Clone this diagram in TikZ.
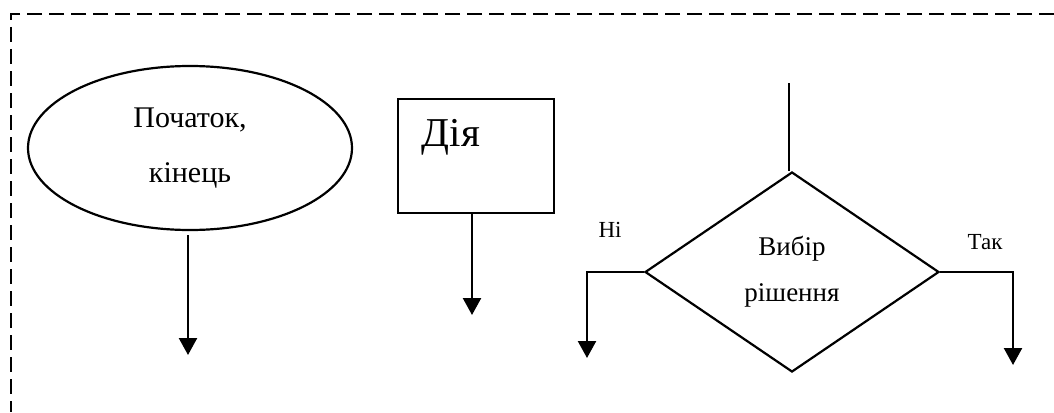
\documentclass[tikz,border=0pt]{standalone}
\usepackage{fontspec}
\setmainfont{Liberation Serif}
\usetikzlibrary{shapes.geometric,arrows.meta}
\begin{document}
\begin{tikzpicture}[x=1pt,y=-1pt,
  line width=2.3pt,
  shapeline/.style={draw, line width=2.2pt, inner sep=0pt},
  arrowline/.style={line width=2.4pt, -{Triangle[width=18pt,length=17pt]}},
  plainline/.style={line width=2.4pt},
  border/.style={line width=2.3pt, dash pattern=on 15pt off 7pt},
  labeltext/.style={font=\fontsize{23}{28}\selectfont, inner sep=0pt}
]
\useasboundingbox (0,0) rectangle (1054,412);
\draw[border] (1054,14) -- (11,14) -- (11,412);

% terminator
\node[shapeline, ellipse, minimum width=324pt, minimum height=164pt,
      align=center, font=\fontsize{30}{55}\selectfont] (start) at (190,148) {Початок,\\кінець};
\coordinate (starttip) at (188,355);
\draw[arrowline] ([yshift=-4pt]start.south -| starttip) -- (starttip);

% process
\node[shapeline, rectangle, minimum width=156pt, minimum height=114pt] (act) at (476,156) {};
\node[inner sep=0pt, font=\fontsize{41}{48}\selectfont] (acttext) at (451,137) {Дія};
\coordinate (acttip) at (472,315);
\draw[arrowline] (act.south -| acttip) -- (acttip);

% decision
\node[shapeline, diamond, minimum width=294pt, minimum height=200pt,
      align=center, font=\fontsize{27}{46}\selectfont] (dec) at (792,272) {Вибір\\рішення};
\coordinate (dectop) at (789,83);
\draw[plainline] (dectop) -- (dec.north -| dectop);
\coordinate (notip) at (587,358);
\coordinate (yestip) at (1013,365);
\draw[arrowline] (dec.west) -| (notip);
\draw[arrowline] (dec.east) -| (yestip);
\node[labeltext] (nolabel) at (610,230) {Ні};
\node[labeltext] (yeslabel) at (985,242) {Так};
\end{tikzpicture}
\end{document}
